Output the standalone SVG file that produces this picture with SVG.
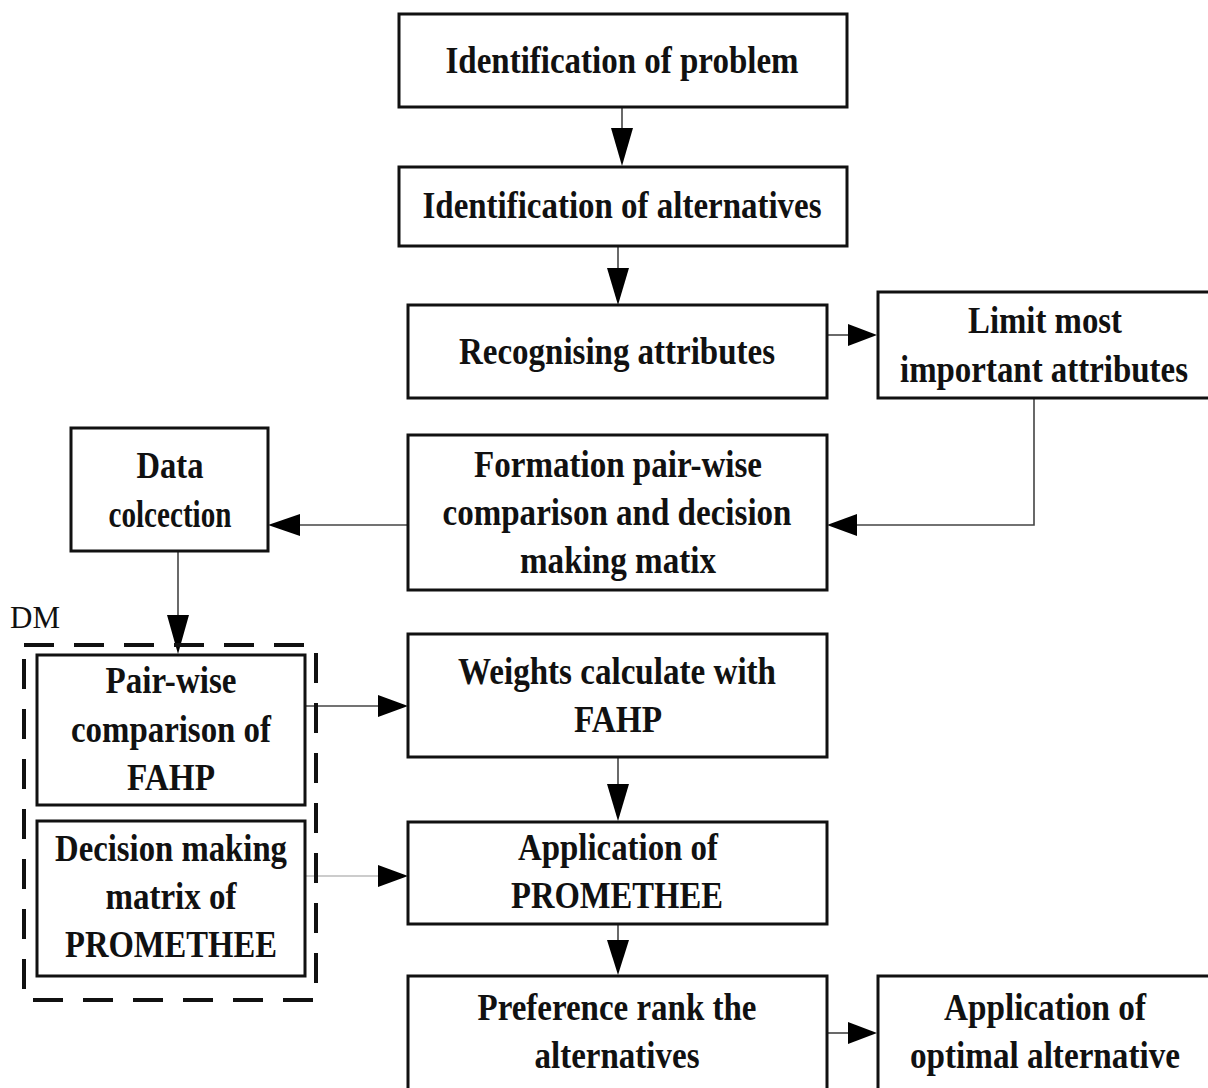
<svg xmlns="http://www.w3.org/2000/svg" width="1208" height="1088" viewBox="0 0 1208 1088">
<style>
.box{fill:#fff;stroke:#111;stroke-width:3}
.t{font-family:"Liberation Serif","Times New Roman",serif;font-weight:bold;font-size:38px;fill:#111;text-anchor:middle}
.c{fill:none;stroke:#444;stroke-width:1.6}
.ah{fill:#000}
</style>
<rect width="1208" height="1088" fill="#fff"/>
<g id="connectors">
<line class="c" x1="622" y1="107" x2="622" y2="130"/><polygon class="ah" points="611,128 633,128 622,166"/>
<line class="c" x1="618" y1="246" x2="618" y2="270"/><polygon class="ah" points="607,268 629,268 618,305"/>
<line class="c" x1="827" y1="335" x2="850" y2="335"/><polygon class="ah" points="848,324 848,346 877,335"/>
<polyline class="c" points="1034,398 1034,525 855,525"/><polygon class="ah" points="857,514 857,536 827,525"/>
<line class="c" x1="408" y1="525" x2="298" y2="525"/><polygon class="ah" points="300,514 300,536 268,525"/>
<line class="c" x1="178" y1="551" x2="178" y2="617"/><polygon class="ah" points="167,615 189,615 178,654"/>
<line class="c" x1="305" y1="706" x2="380" y2="706"/><polygon class="ah" points="378,695 378,717 408,706"/>
<line class="c" x1="305" y1="876" x2="380" y2="876" style="stroke:#bbb"/><polygon class="ah" points="378,865 378,887 408,876"/>
<line class="c" x1="618" y1="757" x2="618" y2="786"/><polygon class="ah" points="607,784 629,784 618,821"/>
<line class="c" x1="618" y1="924" x2="618" y2="942"/><polygon class="ah" points="607,940 629,940 618,975"/>
<line class="c" x1="827" y1="1033" x2="850" y2="1033"/><polygon class="ah" points="848,1022 848,1044 877,1033"/>
</g>
<g id="n1"><rect class="box" x="399" y="14" width="448" height="93"/><text class="t" x="622" y="73" textLength="353" lengthAdjust="spacingAndGlyphs">Identification of problem</text></g>
<g id="n2"><rect class="box" x="399" y="167" width="448" height="79"/><text class="t" x="622" y="218" textLength="399" lengthAdjust="spacingAndGlyphs">Identification of alternatives</text></g>
<g id="n3"><rect class="box" x="408" y="305" width="419" height="93"/><text class="t" x="617" y="364" textLength="316" lengthAdjust="spacingAndGlyphs">Recognising attributes</text></g>
<g id="n4"><rect class="box" x="878" y="292" width="340" height="106"/><text class="t" x="1045" y="333" textLength="154" lengthAdjust="spacingAndGlyphs">Limit most</text><text class="t" x="1044" y="382" textLength="288" lengthAdjust="spacingAndGlyphs">important attributes</text></g>
<g id="n5"><rect class="box" x="408" y="435" width="419" height="155"/><text class="t" x="618" y="477" textLength="288" lengthAdjust="spacingAndGlyphs">Formation pair-wise</text><text class="t" x="617" y="525" textLength="349" lengthAdjust="spacingAndGlyphs">comparison and decision</text><text class="t" x="618" y="573" textLength="196" lengthAdjust="spacingAndGlyphs">making matix</text></g>
<g id="n6"><rect class="box" x="71" y="428" width="197" height="123"/><text class="t" x="170" y="478" textLength="67" lengthAdjust="spacingAndGlyphs">Data</text><text class="t" x="170" y="527" textLength="123" lengthAdjust="spacingAndGlyphs">colcection</text></g>
<g id="dm"><rect x="24" y="645" width="292" height="355" fill="none" stroke="#111" stroke-width="4" stroke-dasharray="30,20"/><text x="10" y="628" style="font-family:'Liberation Serif','Times New Roman',serif;font-size:32px;fill:#111" textLength="50" lengthAdjust="spacingAndGlyphs">DM</text></g>
<g id="n7"><rect class="box" x="37" y="655" width="268" height="150"/><text class="t" x="171" y="693" textLength="131" lengthAdjust="spacingAndGlyphs">Pair-wise</text><text class="t" x="171" y="742" textLength="200" lengthAdjust="spacingAndGlyphs">comparison of</text><text class="t" x="171" y="790" textLength="88" lengthAdjust="spacingAndGlyphs">FAHP</text></g>
<g id="n8"><rect class="box" x="37" y="821" width="268" height="155"/><text class="t" x="171" y="861" textLength="232" lengthAdjust="spacingAndGlyphs">Decision making</text><text class="t" x="171" y="909" textLength="131" lengthAdjust="spacingAndGlyphs">matrix of</text><text class="t" x="171" y="957" textLength="212" lengthAdjust="spacingAndGlyphs">PROMETHEE</text></g>
<g id="n9"><rect class="box" x="408" y="634" width="419" height="123"/><text class="t" x="617" y="684" textLength="318" lengthAdjust="spacingAndGlyphs">Weights calculate with</text><text class="t" x="618" y="732" textLength="88" lengthAdjust="spacingAndGlyphs">FAHP</text></g>
<g id="n10"><rect class="box" x="408" y="822" width="419" height="102"/><text class="t" x="618" y="860" textLength="200" lengthAdjust="spacingAndGlyphs">Application of</text><text class="t" x="617" y="908" textLength="212" lengthAdjust="spacingAndGlyphs">PROMETHEE</text></g>
<g id="n11"><rect class="box" x="408" y="976" width="419" height="125"/><text class="t" x="617" y="1020" textLength="279" lengthAdjust="spacingAndGlyphs">Preference rank the</text><text class="t" x="617" y="1068" textLength="165" lengthAdjust="spacingAndGlyphs">alternatives</text></g>
<g id="n12"><rect class="box" x="878" y="976" width="340" height="125"/><text class="t" x="1045" y="1020" textLength="202" lengthAdjust="spacingAndGlyphs">Application of</text><text class="t" x="1045" y="1068" textLength="270" lengthAdjust="spacingAndGlyphs">optimal alternative</text></g>
</svg>
